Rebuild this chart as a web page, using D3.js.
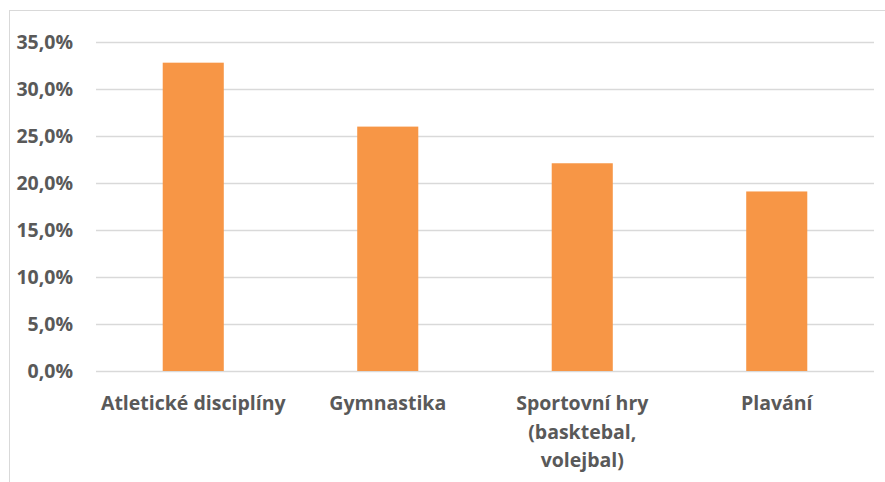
<!DOCTYPE html>
<html>
<head>
<meta charset="utf-8">
<script src="https://cdn.jsdelivr.net/npm/d3@7"></script>
<style>
  html, body { margin: 0; padding: 0; background: #fff; }
  svg { display: block; }
  .lbl { font-family: "Open Sans", sans-serif; font-weight: 700; fill: #595959; }
</style>
</head>
<body>
<svg id="chart" width="885" height="482"></svg>
<script>
// Oblíbené sportovní disciplíny (podíl odpovědí)
const categories = ["Atletické disciplíny", "Gymnastika", "Sportovní hry (basktebal, volejbal)", "Plavání"];
const values = [0.328, 0.260, 0.221, 0.191];
const yTicks = [0, 0.05, 0.10, 0.15, 0.20, 0.25, 0.30, 0.35];

const width = 885, height = 482;
const margin = { top: 42, right: 11, bottom: 111, left: 96 };
const fontSize = 19.5;

const svg = d3.select("#chart");

// chart area frame (extends past the visible window on the right and bottom)
svg.append("rect")
  .attr("x", 9.5).attr("y", 10.5)
  .attr("width", width + 20).attr("height", height + 20)
  .attr("fill", "#fff")
  .attr("stroke", "#D9D9D9")
  .attr("stroke-width", 1);

const x = d3.scaleBand()
  .domain(categories)
  .range([margin.left, width - margin.right])
  .paddingInner(0.686)
  .paddingOuter(0.343);

const y = d3.scaleLinear()
  .domain([0, 0.35])
  .range([height - margin.bottom, margin.top]);

const fmt = v => d3.format(".1f")(v * 100).replace(".", ",") + "%";

// horizontal gridlines
svg.append("g")
  .attr("transform", `translate(${margin.left},0)`)
  .call(d3.axisRight(y).tickValues(yTicks).tickSize(width - margin.right - margin.left).tickFormat(""))
  .call(g => g.select(".domain").remove())
  .call(g => g.selectAll(".tick line").attr("stroke", "#D9D9D9").attr("stroke-width", 1.6));

// y axis labels
svg.append("g")
  .attr("transform", `translate(73,0)`)
  .call(d3.axisLeft(y).tickValues(yTicks).tickSize(0).tickPadding(0).tickFormat(fmt))
  .call(g => g.select(".domain").remove())
  .call(g => g.selectAll("text")
    .attr("class", "lbl")
    .attr("font-size", fontSize)
    .attr("dy", "0.35em"));

// bars
svg.append("g")
  .selectAll("rect")
  .data(values)
  .join("rect")
  .attr("x", (d, i) => x(categories[i]))
  .attr("y", d => y(d))
  .attr("width", x.bandwidth())
  .attr("height", d => y(0) - y(d))
  .attr("fill", "#F79646");

// category labels, wrapped to fit under each category
const maxW = 190;
const xAxis = svg.append("g")
  .attr("transform", `translate(0,${y(0)})`)
  .call(d3.axisBottom(x).tickSize(0).tickPadding(0))
  .call(g => g.select(".domain").remove());

xAxis.selectAll("text").each(function(label) {
  const t = d3.select(this);
  t.text(null).attr("class", "lbl").attr("font-size", fontSize).attr("y", 0).attr("dy", null);
  const words = label.split(" ");
  const lines = [];
  let line = [];
  const tspan = t.append("tspan");
  for (const w of words) {
    line.push(w);
    tspan.text(line.join(" "));
    if (tspan.node().getComputedTextLength() > maxW && line.length > 1) {
      line.pop();
      lines.push(line.join(" "));
      line = [w];
      tspan.text(w);
    }
  }
  lines.push(line.join(" "));
  t.text(null);
  lines.forEach((l, i) => {
    t.append("tspan").attr("x", 0).attr("y", 39 + i * 28.5).text(l);
  });
});
</script>
</body>
</html>
